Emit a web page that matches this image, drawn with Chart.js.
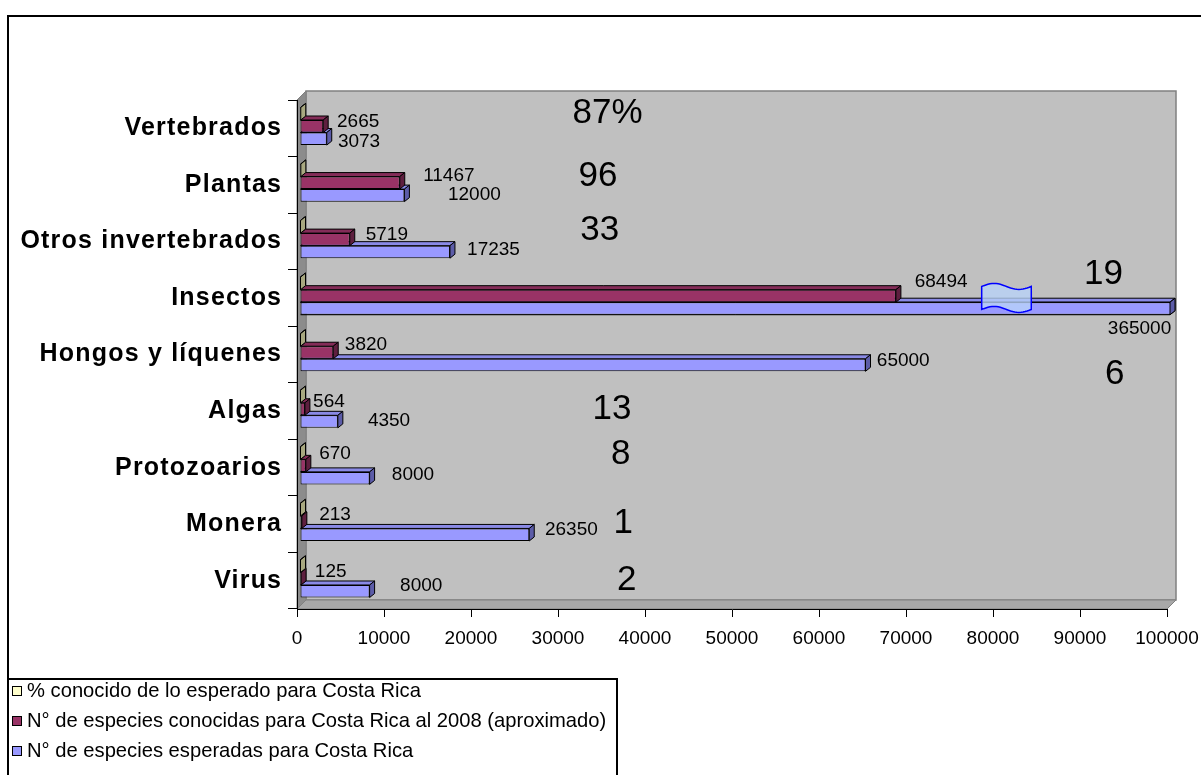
<!DOCTYPE html>
<html>
<head>
<meta charset="utf-8">
<title>Biodiversidad de Costa Rica</title>
<script src="https://cdn.jsdelivr.net/npm/chart.js@4/dist/chart.umd.min.js"></script>
<style>
  html, body { margin: 0; padding: 0; background: #fff; overflow: hidden; }
  canvas { display: block; }
</style>
</head>
<body>
<canvas id="chart" width="1201" height="775"></canvas>
<script>
// ---- data ---------------------------------------------------------------
const categories = ['Vertebrados', 'Plantas', 'Otros invertebrados', 'Insectos',
  'Hongos y líquenes', 'Algas', 'Protozoarios', 'Monera', 'Virus'];
const seriesNames = [
  '% conocido de lo esperado para Costa Rica',
  'N° de especies conocidas para Costa Rica al 2008 (aproximado)',
  'N° de especies esperadas para Costa Rica'
];
const pctKnown        = [87, 96, 33, 19, 6, 13, 8, 1, 2];
const knownSpecies    = [2665, 11467, 5719, 68494, 3820, 564, 670, 213, 125];
const expectedSpecies = [3073, 12000, 17235, 365000, 65000, 4350, 8000, 26350, 8000];
const axisTicks = [0, 10000, 20000, 30000, 40000, 50000, 60000, 70000, 80000, 90000, 100000];

// ---- label anchors: axis value of the anchor, pixel offset from category centre
const pctLabelAt      = [35700, 34600, 34800, 92700, 94000, 36200, 37200, 37500, 37900];
const pctLabelDy      = [-15, -8, -11, -24, 20, -2, -13, -1, 0];
const knownLabelAt    = [4600, 14500, 7900, 71000, 5500, 1850, 2550, 2550, 2050];
const knownLabelDy    = [-7, -9, -7, -16, -10, -9, -14, -9, -9];
const expectedLabelAt = [4700, 17350, 19550, 93200, 66650, 8150, 10900, 28500, 11850];
const expectedLabelDy = [13, 10, 8, 31, 6, 10, 7, 6, 5];
// axis range covered by the scale-break mark on the clipped Insectos bar
const breakSpan = [78700, 84400];

// ---- styling ------------------------------------------------------------
const FONT = '"Liberation Sans", Arial, sans-serif';
const SHADES = [
  { front: '#FFFFCC', top: '#E0E0B0', side: '#A8A880' },
  { front: '#993366', top: '#842C58', side: '#5E1F3F' },
  { front: '#9999FF', top: '#8A8AE6', side: '#5C5CA8' }
];
const WALL = 9;                    // depth of the walls / floor
const DEPTH = { dx: 5, dy: -4 };   // depth of each bar
const SHIFT = { dx: 3, dy: -2 };   // bars sit in the middle of the depth

function poly(ctx, pts, fill) {
  ctx.beginPath();
  pts.forEach(([x, y], k) => (k ? ctx.lineTo(x, y) : ctx.moveTo(x, y)));
  ctx.closePath();
  ctx.fillStyle = fill;
  ctx.fill();
  ctx.stroke();
}

function barBox(el, area) {
  const p = el.getProps(['x', 'y', 'base', 'height'], true);
  const end = Math.max(p.x, p.base);
  return {
    l: Math.min(p.x, p.base),
    r: Math.min(end, area.right),
    t: p.y - p.height / 2,
    b: p.y + p.height / 2,
    clipped: end > area.right
  };
}

function drawDepth(ctx, box, shade, sideOnly) {
  const { l, r, t, b } = box, dx = DEPTH.dx, dy = DEPTH.dy;
  ctx.strokeStyle = '#000';
  ctx.lineWidth = 1;
  if (!sideOnly) poly(ctx, [[l, t], [r, t], [r + dx, t + dy], [l + dx, t + dy]], shade.top);
  poly(ctx, [[r, t], [r, b], [r + dx, b + dy], [r + dx, t + dy]], shade.side);
  if (sideOnly) {
    ctx.beginPath(); ctx.moveTo(l, t); ctx.lineTo(r, t); ctx.moveTo(l, b); ctx.lineTo(r, b); ctx.stroke();
  }
}

const scene = {
  id: 'scene',
  beforeDraw(chart) {
    const { ctx, chartArea: a } = chart;
    ctx.save();
    ctx.fillStyle = '#fff';
    ctx.fillRect(0, 0, chart.width, chart.height);
    // back wall
    ctx.fillStyle = '#C0C0C0';
    ctx.fillRect(a.left + WALL, a.top - WALL, a.width, a.height);
    ctx.strokeStyle = '#808080';
    ctx.lineWidth = 1.5;
    ctx.strokeRect(a.left + WALL, a.top - WALL, a.width, a.height);
    ctx.lineWidth = 1;
    // left wall and floor
    poly(ctx, [[a.left, a.bottom], [a.left, a.top], [a.left + WALL, a.top - WALL], [a.left + WALL, a.bottom - WALL]], '#8C8C8C');
    poly(ctx, [[a.left, a.bottom], [a.right, a.bottom], [a.right + WALL, a.bottom - WALL], [a.left + WALL, a.bottom - WALL]], '#A8A8A8');
    // outer frame
    ctx.strokeStyle = '#000';
    ctx.lineWidth = 2;
    ctx.strokeRect(8, 16, 1200, 780);
    ctx.restore();
  },
  beforeDatasetsDraw(chart) {
    chart.ctx.save();
    chart.ctx.translate(SHIFT.dx, SHIFT.dy);
  },
  beforeDatasetDraw(chart, args) {
    const ctx = chart.ctx, shade = SHADES[args.index];
    args.meta.data.forEach(el => drawDepth(ctx, barBox(el, chart.chartArea), shade, false));
  },
  afterDatasetDraw(chart, args) {
    const ctx = chart.ctx, shade = SHADES[args.index];
    args.meta.data.forEach(el => {
      const box = barBox(el, chart.chartArea);
      if (box.clipped) drawDepth(ctx, box, shade, true);
    });
  },
  afterDatasetsDraw(chart) {
    const ctx = chart.ctx;
    ctx.restore();
    const xs = chart.scales.x, ys = chart.scales.y;

    // scale-break mark on the Insectos bar
    const ins = categories.indexOf('Insectos');
    const x0 = xs.getPixelForValue(breakSpan[0]), x1 = xs.getPixelForValue(breakSpan[1]);
    const yc = ys.getPixelForValue(ins), half = 11.5, amp = 3, n = 24;
    ctx.save();
    ctx.beginPath();
    for (let k = 0; k <= n; k++) {
      const x = x0 + (x1 - x0) * k / n;
      const y = yc - half - amp * Math.sin(2 * Math.PI * k / n);
      k ? ctx.lineTo(x, y) : ctx.moveTo(x, y);
    }
    for (let k = n; k >= 0; k--) {
      const x = x0 + (x1 - x0) * k / n;
      ctx.lineTo(x, yc + half - amp * Math.sin(2 * Math.PI * k / n));
    }
    ctx.closePath();
    ctx.fillStyle = 'rgba(185,212,250,0.78)';
    ctx.fill();
    ctx.strokeStyle = '#0000FF';
    ctx.lineWidth = 1.5;
    ctx.stroke();
    ctx.restore();

    // value labels
    ctx.save();
    ctx.fillStyle = '#000';
    ctx.textBaseline = 'middle';
    ctx.font = '19px ' + FONT;
    ctx.textAlign = 'left';
    categories.forEach((c, i) => {
      const yc = ys.getPixelForValue(i);
      ctx.fillText(String(knownSpecies[i]), xs.getPixelForValue(knownLabelAt[i]), yc + knownLabelDy[i]);
      ctx.fillText(String(expectedSpecies[i]), xs.getPixelForValue(expectedLabelAt[i]), yc + expectedLabelDy[i]);
    });
    ctx.font = '35px ' + FONT;
    ctx.textAlign = 'center';
    categories.forEach((c, i) => {
      // only the first figure carries the percent sign
      const txt = String(pctKnown[i]) + (i === 0 ? '%' : '');
      ctx.fillText(txt, xs.getPixelForValue(pctLabelAt[i]), ys.getPixelForValue(i) + pctLabelDy[i]);
    });
    ctx.restore();
  },
  afterDraw(chart) {
    const ctx = chart.ctx, ys = chart.scales.y;
    ctx.save();
    // category names
    ctx.fillStyle = '#000';
    ctx.font = 'bold 25px ' + FONT;
    ctx.letterSpacing = '1.2px';
    ctx.textAlign = 'right';
    ctx.textBaseline = 'middle';
    categories.forEach((c, i) => ctx.fillText(c, ys.right - 16 + 1.2, ys.getPixelForValue(i)));
    ctx.letterSpacing = '0px';

    // legend
    const lx = 8, ly = 679;
    ctx.fillStyle = '#fff';
    ctx.fillRect(lx, ly, 609, 110);
    ctx.strokeStyle = '#000';
    ctx.lineWidth = 2;
    ctx.strokeRect(lx, ly, 609, 110);
    ctx.lineWidth = 1;
    ctx.font = '20.2px ' + FONT;
    ctx.textAlign = 'left';
    seriesNames.forEach((name, i) => {
      const y = 691 + i * 30;
      ctx.fillStyle = SHADES[i].front;
      ctx.fillRect(12.5, y - 4.5, 9, 9);
      ctx.strokeRect(12.5, y - 4.5, 9, 9);
      ctx.fillStyle = '#000';
      ctx.fillText(name, 27, y);
    });
    ctx.restore();
  }
};

const datasets = [pctKnown, knownSpecies, expectedSpecies].map((values, i) => ({
  label: seriesNames[i],
  data: values,
  backgroundColor: SHADES[i].front,
  borderColor: '#000',
  borderWidth: 1,
  borderSkipped: false,
  categoryPercentage: 0.665,
  barPercentage: 1,
  clip: 0
}));

new Chart(document.getElementById('chart'), {
  type: 'bar',
  data: { labels: categories, datasets },
  options: {
    indexAxis: 'y',
    responsive: false,
    devicePixelRatio: 1,
    animation: false,
    layout: { padding: { left: 0, right: 34, top: 100, bottom: 0 } },
    plugins: { legend: { display: false }, tooltip: { enabled: false } },
    scales: {
      x: {
        min: 0,
        max: 100000,
        afterBuildTicks: s => { s.ticks = axisTicks.map(v => ({ value: v })); },
        // the outer margins alone decide the plot width
        afterFit: s => { s.height = 166; s.paddingLeft = 0; s.paddingRight = 0; },
        ticks: {
          callback: v => String(v),
          color: '#000',
          font: { family: FONT, size: 19 },
          padding: 10,
          maxRotation: 0,
          autoSkip: false
        },
        grid: { drawOnChartArea: false, drawTicks: true, tickLength: 8, color: '#000' },
        border: { color: '#000', width: 1 }
      },
      y: {
        type: 'category',
        afterFit: s => { s.width = 297; s.paddingTop = 0; s.paddingBottom = 0; },
        ticks: { display: false },
        grid: { drawOnChartArea: false, drawTicks: true, tickLength: 9, color: '#000', offset: true },
        border: { color: '#000', width: 1 }
      }
    }
  },
  plugins: [scene]
});
</script>
</body>
</html>
